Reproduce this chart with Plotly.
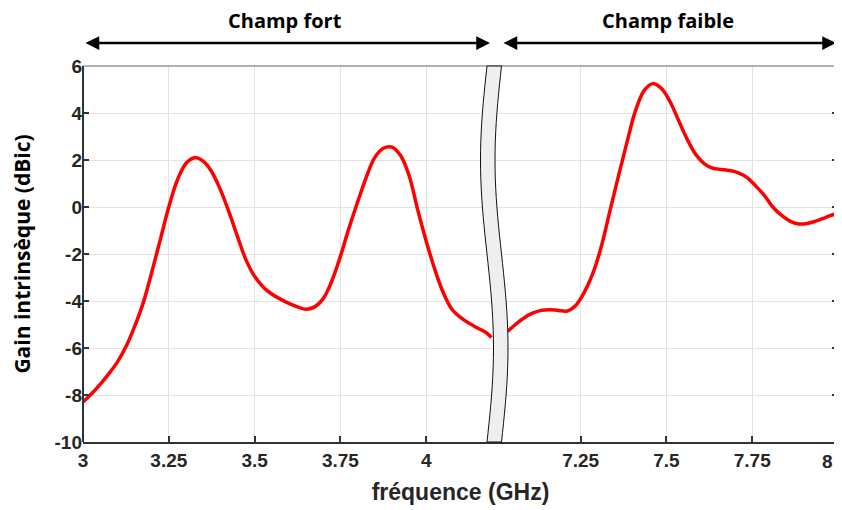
import numpy as np
import plotly.graph_objects as go

# ---- data ----
freq_fort = [3.000, 3.025, 3.050, 3.075, 3.100, 3.125, 3.150, 3.175, 3.200, 3.225,
             3.250, 3.275, 3.300, 3.325, 3.350, 3.375, 3.400, 3.425, 3.450, 3.475,
             3.500, 3.525, 3.550, 3.575, 3.600, 3.625, 3.650, 3.675, 3.700, 3.725,
             3.750, 3.775, 3.800, 3.825, 3.850, 3.875, 3.900, 3.925, 3.950, 3.975,
             4.000, 4.025, 4.050, 4.075, 4.100, 4.125, 4.150, 4.175, 4.190]
gain_fort = [-8.3, -7.95, -7.55, -7.1, -6.6, -5.95, -5.1, -4.1, -2.8, -1.4,
             0.0, 1.15, 1.85, 2.1, 1.95, 1.5, 0.75, -0.2, -1.25, -2.25,
             -2.95, -3.4, -3.7, -3.92, -4.1, -4.25, -4.35, -4.25, -3.9, -3.15,
             -2.1, -0.9, 0.2, 1.25, 2.1, 2.5, 2.55, 2.2, 1.35, -0.1,
             -1.45, -2.65, -3.65, -4.35, -4.7, -4.95, -5.15, -5.35, -5.55]
freq_faible = [7.037, 7.060, 7.085, 7.110, 7.135, 7.160, 7.185, 7.210, 7.235, 7.260,
               7.285, 7.310, 7.335, 7.360, 7.385, 7.410, 7.435, 7.460, 7.485, 7.510,
               7.535, 7.560, 7.585, 7.610, 7.635, 7.660, 7.685, 7.710, 7.735, 7.760,
               7.785, 7.810, 7.835, 7.860, 7.885, 7.910, 7.935, 7.960, 7.985, 8.000]
gain_faible = [-5.3, -5.0, -4.72, -4.52, -4.4, -4.37, -4.4, -4.43, -4.2, -3.65,
               -2.85, -1.7, -0.2, 1.3, 2.75, 4.1, 4.95, 5.25, 5.05, 4.5,
               3.7, 2.9, 2.25, 1.85, 1.65, 1.6, 1.55, 1.45, 1.25, 0.9,
               0.5, 0.0, -0.35, -0.6, -0.72, -0.7, -0.6, -0.47, -0.33, -0.25]

x_tick_values = [3, 3.25, 3.5, 3.75, 4, 7.25, 7.5, 7.75, 8]
x_tick_labels = ["3", "3.25", "3.5", "3.75", "4", "7.25", "7.5", "7.75", "8"]
y_tick_values = [-10, -8, -6, -4, -2, 0, 2, 4, 6]
y_tick_labels = ["-10", "-8", "-6", "-4", "-2", "0", "2", "4", "6"]

# broken axis: the high band is shifted left so both bands share one axis
BREAK_LOW, BREAK_HIGH = 4.2, 7.0
SHIFT = BREAK_HIGH - BREAK_LOW


def to_axis(f):
    return f - SHIFT if f >= BREAK_HIGH else f


fig = go.Figure()
for fx, gy in ((freq_fort, gain_fort), (freq_faible, gain_faible)):
    fig.add_trace(go.Scatter(
        x=[to_axis(v) for v in fx], y=gy, mode="lines",
        line=dict(color="#ff0000", width=3.5, shape="spline", smoothing=1.0),
        showlegend=False, hoverinfo="skip"))

tick_font = dict(family="Liberation Sans, Arial", size=19, color="#262626", weight="bold")

# the last tick label sits at the very edge of the page; it is drawn as an
# annotation nudged inward so that it is not hidden
fig.update_xaxes(
    range=[3, 8 - SHIFT], tickmode="array",
    tickvals=[to_axis(v) for v in x_tick_values], ticktext=x_tick_labels[:-1] + [""],
    ticks="inside", ticklen=6, tickwidth=1.5, tickcolor="#333",
    showline=True, linecolor="#333", linewidth=2, mirror=False,
    showgrid=True, gridcolor="#e3e3e3", gridwidth=1, zeroline=False,
    tickfont=tick_font,
    title=dict(text="fréquence (GHz)",
               font=dict(family="Liberation Sans, Arial", size=23, color="#262626", weight="bold"),
               standoff=14),
)
fig.add_annotation(xref="paper", yref="paper", x=1, y=-20 / 376, xanchor="right",
                   yanchor="middle", xshift=-3, text=x_tick_labels[-1], showarrow=False,
                   font=tick_font)

fig.update_yaxes(
    range=[-10, 6], tickmode="array", tickvals=y_tick_values, ticktext=y_tick_labels,
    ticks="inside", ticklen=6, tickwidth=1.5, tickcolor="#333",
    showline=False, mirror="ticks",
    showgrid=True, gridcolor="#e3e3e3", gridwidth=1, zeroline=False,
    tickfont=tick_font,
    title=dict(text="Gain intrinsèque (dBic)",
               font=dict(family="Open Sans", size=21, color="#000", weight="bold"),
               standoff=20),
)

# frame
fig.add_shape(type="line", xref="paper", yref="paper", x0=0, x1=0, y0=0, y1=1,
              line=dict(color="#333", width=2))
fig.add_shape(type="line", xref="paper", yref="paper", x0=0, x1=1, y0=1, y1=1,
              line=dict(color="#666", width=1.2))
fig.add_shape(type="line", xref="paper", yref="paper", x0=1, x1=1, y0=0, y1=1,
              line=dict(color="#666", width=1.2))

# axis-break band (S-shaped), in paper coordinates
x0_px, plot_w, plot_h = 83, 755, 376
t = np.linspace(0, 1, 41)
left_px = 487 - 6.5 * np.sin(2 * np.pi * t)
right_px = left_px + 14.5
lx = (left_px - x0_px) / plot_w
rx = (right_px - x0_px) / plot_w
yy = 1 - t
pts = [f"{a:.5f},{b:.5f}" for a, b in zip(lx, yy)] + \
      [f"{a:.5f},{b:.5f}" for a, b in zip(rx[::-1], yy[::-1])]
path = "M " + " L ".join(pts) + " Z"
fig.add_shape(type="path", xref="paper", yref="paper", path=path,
              fillcolor="#efefef", line=dict(color="#111", width=1), layer="above")

# region arrows and labels
arrow_y = 1 + 23 / plot_h
for x_start, x_end in (((84 - x0_px) / plot_w, (490 - x0_px) / plot_w),
                       ((502 - x0_px) / plot_w, (836 - x0_px) / plot_w)):
    fig.add_annotation(xref="paper", yref="paper", x=x_end, y=arrow_y,
                       ax=-(x_end - x_start) * plot_w, ay=0, axref="pixel", ayref="pixel",
                       text="", showarrow=True, arrowhead=2, startarrowhead=2,
                       arrowside="end+start", arrowsize=1.1, arrowwidth=2.5,
                       arrowcolor="#000")

label_font = dict(family="Open Sans", size=20, color="#000", weight="bold")
fig.add_annotation(xref="paper", yref="paper", x=(285 - x0_px) / plot_w, y=1 + 45 / plot_h,
                   xanchor="center", yanchor="middle",
                   text="Champ fort", showarrow=False, font=label_font)
fig.add_annotation(xref="paper", yref="paper", x=(668 - x0_px) / plot_w, y=1 + 45 / plot_h,
                   xanchor="center", yanchor="middle",
                   text="Champ faible", showarrow=False, font=label_font)

# the page body adds an 8 px offset, so the figure is 8 px smaller on each side
fig.update_layout(
    width=834, height=502, autosize=False,
    margin=dict(l=75, r=4, t=58, b=68),
    paper_bgcolor="white", plot_bgcolor="white",
)

fig.write_html("out.html")
